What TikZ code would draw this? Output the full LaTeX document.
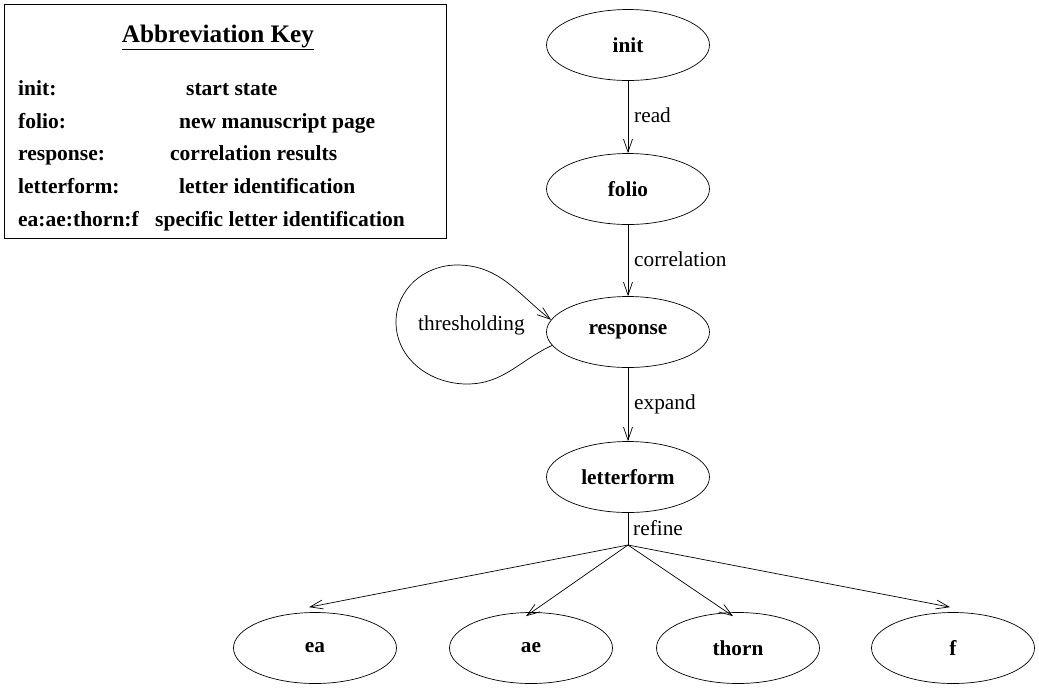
\documentclass[tikz,border=0pt]{standalone}
\usepackage{fontspec}
\setmainfont{Liberation Serif}
\usetikzlibrary{shapes.geometric,arrows.meta}
\begin{document}
\begin{tikzpicture}[x=1pt,y=-1pt,
  state/.style={ellipse,draw,line width=0.7pt,minimum width=163pt,minimum height=71pt,inner sep=0pt,font=\fontsize{21.3}{25}\selectfont\bfseries},
  edge/.style={draw,line width=0.7pt,-{Straight Barb[length=13pt,width=9pt]}},
  plain/.style={draw,line width=0.7pt},
  elabel/.style={anchor=base west,font=\fontsize{21.3}{25}\selectfont,inner sep=0pt},
  keytext/.style={anchor=base west,font=\fontsize{21.5}{25}\selectfont\bfseries,inner sep=0pt}]
\useasboundingbox (0,0) rectangle (1039,689);

% key box
\draw[line width=0.7pt] (4,4) rectangle (446,238);
\node[anchor=base,font=\fontsize{25.2}{29}\selectfont\bfseries,inner sep=0pt] (ktitle) at (218,42) {\underline{Abbreviation Key}};
\node[keytext] (k1a) at (18,95) {init:};
\node[keytext] (k1b) at (186,95) {start state};
\node[keytext] (k2a) at (18,128) {folio:};
\node[keytext] (k2b) at (179,128) {new manuscript page};
\node[keytext] (k3a) at (18,160) {response:};
\node[keytext] (k3b) at (170,160) {correlation results};
\node[keytext] (k4a) at (18,193) {letterform:};
\node[keytext] (k4b) at (179,193) {letter identification};
\node[keytext] (k5a) at (18,226) {ea:ae:thorn:f};
\node[keytext] (k5b) at (155,226) {specific letter identification};

% states
\node[state] (init) at (628,45) {init};
\node[state] (folio) at (628,189) {folio};
\node[state] (response) at (628,332) {response};
\node[state] (letterform) at (628,477) {letterform};
\node[state] (ea) at (315,648) {ea};
\node[state] (ae) at (531,648) {ae};
\node[state] (thorn) at (738,648) {thorn};
\node[state] (f) at (953,648) {f};

\coordinate (br) at (628,545);

\draw[edge] (init) -- (folio);
\node[elabel] (lread) at (634,122) {read};
\draw[edge] (folio) -- (response);
\node[elabel] (lcorr) at (634,266) {correlation};
\draw[edge] (response) -- (letterform);
\node[elabel] (lexp) at (634,409) {expand};
\draw[plain] (letterform) -- (br);
\node[elabel] (lref) at (633,535) {refine};

\draw[edge] (br) -- ([xshift=-6pt,yshift=5pt]ea.north);
\draw[edge] (br) -- ([xshift=-5pt,yshift=-4pt]ae.north);
\draw[edge] (br) -- ([xshift=-5pt,yshift=-4pt]thorn.north);
\draw[edge] (br) -- ([xshift=-3pt,yshift=5pt]f.north);

% self loop
\draw[edge] (response.190) to[out=205,in=0] (467,384) to[out=180,in=270] (396,322)
  to[out=90,in=180] (457,265) to[out=0,in=142] (response.171);
\node[elabel] (lthr) at (418,330) {thresholding};
\end{tikzpicture}
\end{document}
